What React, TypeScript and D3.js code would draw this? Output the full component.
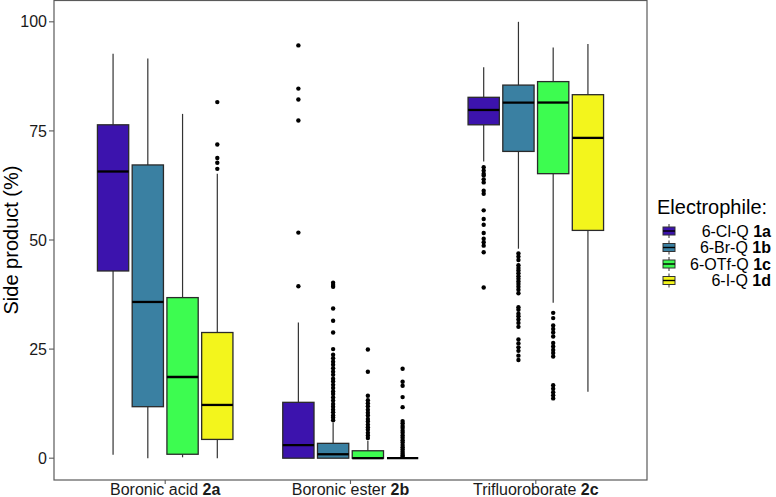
import * as d3 from "d3";

// substrates on the x axis, electrophiles as the dodged boxes
const substrates = ["Boronic acid", "Boronic ester", "Trifluoroborate"];
const substrateCodes = ["2a", "2b", "2c"];
const electrophiles = ["6-Cl-Q", "6-Br-Q", "6-OTf-Q", "6-I-Q"];
const electrophileCodes = ["1a", "1b", "1c", "1d"];
const fills = ["#3c13ad", "#3a80a2", "#3dfc50", "#f3f51c"];
const yTicks = [0, 25, 50, 75, 100];

// box statistics, [substrate][electrophile]
const whiskerLow = [
  [0.8, 0, 0.2, 0],
  [0, 0, 0, 0],
  [68.0, 48.0, 35.6, 15.2],
];
const q1 = [
  [42.9, 11.8, 0.9, 4.3],
  [0, 0, 0, 0],
  [76.4, 70.3, 65.2, 52.2],
];
const median = [
  [65.7, 35.8, 18.6, 12.2],
  [3.0, 0.9, 0, 0],
  [79.8, 81.5, 81.5, 73.4],
];
const q3 = [
  [76.4, 67.2, 36.8, 28.8],
  [12.8, 3.4, 1.7, 0],
  [82.7, 85.5, 86.3, 83.3],
];
const whiskerHigh = [
  [92.7, 91.6, 78.9, 65.2],
  [31.1, 8.1, 4.0, 0],
  [89.6, 100, 94.1, 94.9],
];

// outlying points, [substrate][electrophile]
const outliers: number[][][] = [
  [[], [], [], [81.6, 71.9, 68.8, 67.7, 66.3]],
  [
    [94.6, 84.7, 82.2, 77.4, 51.7, 39.4],
    [40.2, 39.7, 39.3, 34.3, 31.5, 28.8, 25.0, 23.7, 22.9, 22.1, 21.4, 20.6, 19.8, 19.1, 18.2, 17.6,
      16.8, 16.1, 15.3, 14.7, 13.9, 13.2, 12.4, 11.8, 11.1, 10.5, 9.8, 9.3, 8.7],
    [24.9, 19.8, 14.3, 13.3, 12.6, 11.9, 11.1, 10.4, 9.8, 9.0, 8.4, 7.7, 7.1, 6.5, 5.8, 5.2, 4.6],
    [20.5, 17.5, 16.6, 14.0, 11.7, 8.5, 8.0, 7.4, 6.9, 6.3, 5.8, 5.2, 4.7, 4.1, 3.6, 3.0, 2.5, 2.0,
      1.5, 1.0, 0.6, 0.3],
  ],
  [
    [66.7, 65.9, 65.2, 64.8, 63.9, 63.2, 61.3, 60.6, 56.8, 54.8, 53.5, 51.6, 50.3, 49.5, 48.7, 47.2, 39.1],
    [46.9, 46.2, 45.4, 44.2, 43.6, 43.0, 42.4, 41.7, 41.1, 40.5, 39.9, 39.3, 38.6, 37.8, 34.6, 34.0,
      33.1, 32.5, 31.8, 31.0, 30.1, 27.2, 26.3, 25.4, 24.6, 23.5, 22.5],
    [33.3, 32.1, 30.4, 29.6, 28.8, 27.9, 26.4, 25.6, 24.8, 24.1, 23.3, 16.7, 15.9, 15.1, 14.4, 13.7],
    [],
  ],
];

const W = 776;
const H = 497;
const panel = { left: 54, right: 647, top: 0, bottom: 480 };
const font = "'Liberation Sans', Arial, sans-serif";

export default function App() {
  const x = d3
    .scaleBand<string>()
    .domain(substrates)
    .range([panel.left, panel.right])
    .paddingInner(0.25)
    .paddingOuter(0.225);
  const inner = d3
    .scaleBand<string>()
    .domain(electrophiles)
    .range([0, x.bandwidth()])
    .paddingInner(0.1)
    .paddingOuter(0.05);
  const y = d3.scaleLinear().domain([-5, 105]).range([panel.bottom, panel.top]);
  const bw = inner.bandwidth();

  const keyY = (i: number) => 231 + i * 16.5;

  return (
    <div style={{ position: "absolute", left: 0, top: 0 }}>
      <svg width={W} height={H} style={{ display: "block", fontFamily: font }}>
        <rect width={W} height={H} fill="#fff" />

        {substrates.map((s, g) =>
          electrophiles.map((e, i) => {
            const x0 = (x(s) as number) + (inner(e) as number);
            const cx = x0 + bw / 2;
            return (
              <g key={s + e}>
                <line x1={cx} x2={cx} y1={y(whiskerHigh[g][i])} y2={y(q3[g][i])} stroke="#333" strokeWidth={1.2} />
                <line x1={cx} x2={cx} y1={y(q1[g][i])} y2={y(whiskerLow[g][i])} stroke="#333" strokeWidth={1.2} />
                <rect
                  x={x0}
                  y={y(q3[g][i])}
                  width={bw}
                  height={Math.max(0, y(q1[g][i]) - y(q3[g][i]))}
                  fill={fills[i]}
                  stroke="#2a2a2a"
                  strokeWidth={1.3}
                />
                <line x1={x0} x2={x0 + bw} y1={y(median[g][i])} y2={y(median[g][i])} stroke="#000" strokeWidth={2.3} />
                {outliers[g][i].map((v, k) => (
                  <circle key={k} cx={cx} cy={y(v)} r={2.2} fill="#000" />
                ))}
              </g>
            );
          })
        )}

        {/* panel border */}
        <rect
          x={panel.left}
          y={panel.top + 0.5}
          width={panel.right - panel.left}
          height={panel.bottom - panel.top - 0.5}
          fill="none"
          stroke="#5a5a5a"
          strokeWidth={1.2}
        />

        {/* y axis */}
        {yTicks.map((t) => (
          <g key={t}>
            <line x1={panel.left - 5} x2={panel.left} y1={y(t)} y2={y(t)} stroke="#5a5a5a" strokeWidth={1.1} />
            <text x={panel.left - 7} y={y(t)} dy="0.35em" textAnchor="end" fontSize={16} fill="#1a1a1a">
              {t}
            </text>
          </g>
        ))}
        <text
          transform={`translate(${18},${(panel.top + panel.bottom) / 2}) rotate(-90)`}
          textAnchor="middle"
          fontSize={20}
          fill="#000"
        >
          Side product (%)
        </text>

        {/* x axis */}
        {substrates.map((s, g) => {
          const cx = (x(s) as number) + x.bandwidth() / 2;
          return (
            <g key={s}>
              <line x1={cx} x2={cx} y1={panel.bottom} y2={panel.bottom + 4} stroke="#5a5a5a" strokeWidth={1.1} />
              <text x={cx} y={panel.bottom + 15} textAnchor="middle" fontSize={16} fill="#1a1a1a">
                {s} <tspan fontWeight="bold">{substrateCodes[g]}</tspan>
              </text>
            </g>
          );
        })}

        {/* legend */}
        <text x={657} y={214} fontSize={20} fill="#000">
          Electrophile:
        </text>
        {electrophiles.map((e, i) => {
          const ky = keyY(i);
          return (
            <g key={e}>
              <line x1={669} x2={669} y1={ky - 7} y2={ky + 7} stroke="#333" strokeWidth={1} />
              <rect x={663} y={ky - 4} width={12} height={8} fill={fills[i]} stroke="#333" strokeWidth={1} />
              <line x1={663} x2={675} y1={ky} y2={ky} stroke="#000" strokeWidth={1.4} />
              <text x={771} y={ky} dy="0.35em" textAnchor="end" fontSize={16} fill="#000">
                {e} <tspan fontWeight="bold">{electrophileCodes[i]}</tspan>
              </text>
            </g>
          );
        })}
      </svg>
    </div>
  );
}
